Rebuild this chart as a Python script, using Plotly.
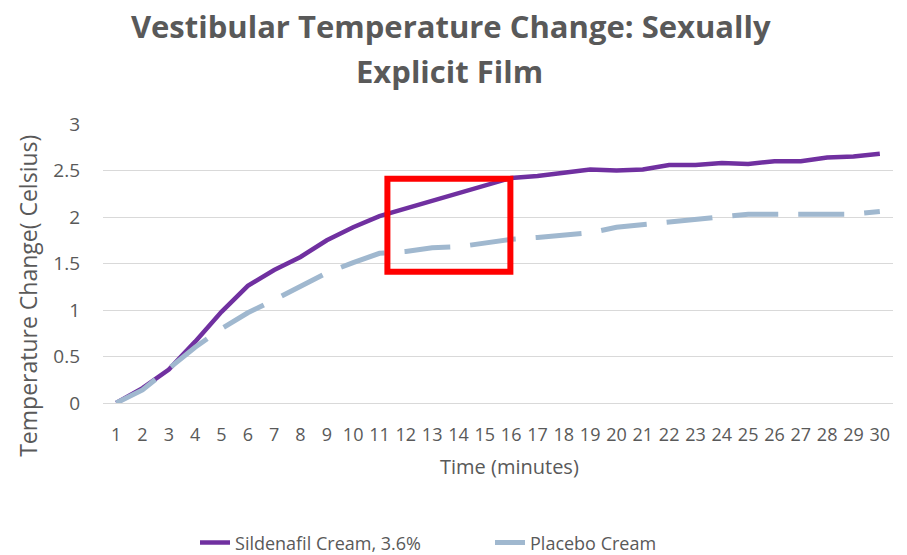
import plotly.graph_objects as go

minutes = list(range(1, 31))
sildenafil = [0.0, 0.16, 0.36, 0.66, 0.98, 1.26, 1.43, 1.57, 1.75, 1.89,
              2.01, 2.09, 2.18, 2.25, 2.33, 2.42, 2.44, 2.48, 2.51, 2.50,
              2.51, 2.56, 2.56, 2.58, 2.57, 2.60, 2.60, 2.64, 2.65, 2.68]
placebo = [0.0, 0.14, 0.37, 0.60, 0.80, 0.97, 1.11, 1.25, 1.40, 1.51,
           1.61, 1.63, 1.67, 1.68, 1.72, 1.76, 1.78, 1.80, 1.83, 1.89,
           1.92, 1.95, 1.98, 2.01, 2.03, 2.03, 2.03, 2.04, 2.03, 2.06]
y_ticks = [0, 0.5, 1, 1.5, 2, 2.5, 3]
y_ticklabels = ["0", "0.5", "1", "1.5", "2", "2.5", "3"]
title_line1 = "Vestibular Temperature Change: Sexually"
title_line2 = "Explicit Film"

FONT = "Open Sans"
GREY = "#595959"

fig = go.Figure()
fig.add_trace(go.Scatter(x=minutes, y=sildenafil, mode="lines",
                         name="Sildenafil Cream, 3.6%",
                         line=dict(color="#7030A0", width=4.5)))
fig.add_trace(go.Scatter(x=minutes, y=placebo, mode="lines",
                         name="Placebo Cream",
                         line=dict(color="#A0B8CF", width=5, dash="46px,20px")))

fig.add_shape(type="rect", xref="x", yref="y", x0=11.3, x1=15.97, y0=1.41, y1=2.41,
              line=dict(color="#FF0000", width=6), fillcolor="rgba(0,0,0,0)")

# second title line (reference uses wider line spacing than plotly's <br>)
fig.add_annotation(text="<b>" + title_line2 + "</b>",
                   xref="paper", yref="paper", x=0.439, y=1.19,
                   xanchor="center", yanchor="middle", showarrow=False,
                   font=dict(family=FONT, size=31, color=GREY))
# axis titles placed as annotations to match the reference offsets
fig.add_annotation(text="Temperature Change( Celsius)", textangle=-90,
                   xref="paper", yref="paper", x=-0.095, y=0.384,
                   xanchor="center", yanchor="middle", showarrow=False,
                   font=dict(family=FONT, size=23, color=GREY))
fig.add_annotation(text="Time (minutes)",
                   xref="paper", yref="paper", x=0.514, y=-0.229,
                   xanchor="center", yanchor="middle", showarrow=False,
                   font=dict(family=FONT, size=20, color=GREY))

fig.update_layout(
    width=907, height=555,
    paper_bgcolor="white", plot_bgcolor="white",
    margin=dict(l=103, r=14, t=124, b=152, autoexpand=False),
    font=dict(family=FONT, color=GREY, size=18),
    title=dict(text="<b>" + title_line1 + "</b>",
               x=0.497, xanchor="center", yref="container", y=0.951, yanchor="middle",
               font=dict(family=FONT, size=31, color=GREY)),
    showlegend=True,
    legend=dict(orientation="h", xref="container", x=0.215, xanchor="left",
                yref="container", y=0.022, yanchor="middle",
                entrywidth=250, entrywidthmode="pixels",
                font=dict(family=FONT, size=18, color=GREY)),
    xaxis=dict(range=[0.5, 30.5], tickvals=minutes, ticktext=[str(m) for m in minutes],
               showgrid=False, zeroline=False, showline=True, linecolor="#D9D9D9",
               ticks="", ticklabelstandoff=15),
    yaxis=dict(range=[0, 3], tickvals=y_ticks, ticktext=y_ticklabels,
               showgrid=True, gridcolor="#D9D9D9", gridwidth=1, zeroline=False,
               showline=False, ticks="", ticklabelstandoff=22,
               tickfont=dict(size=19)),
)

fig.write_html("out.html", config={"displayModeBar": False},
               post_script="document.body.style.margin='0';")
